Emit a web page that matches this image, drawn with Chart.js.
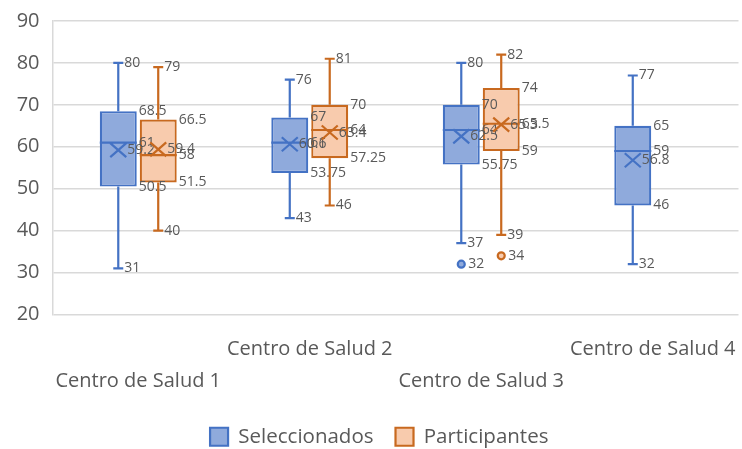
<!DOCTYPE html>
<html lang="es">
<head>
    <meta charset="UTF-8">
    <title>Centros de Salud - Box plot</title>
    <script src="https://cdn.jsdelivr.net/npm/chart.js"></script>
    <style>
        body {
            margin: 0;
            background: #ffffff;
        }
        .chart-wrap {
            position: relative;
            width: 742px;
            height: 449px;
        }
    </style>
</head>
<body>
<div class="chart-wrap">
    <canvas id="boxplot-chart"></canvas>
</div>

<script>
    const categories = [
        ['', 'Centro de Salud 1'],
        'Centro de Salud 2',
        ['', 'Centro de Salud 3'],
        'Centro de Salud 4'
    ];

    // Seleccionados
    const selMin = [31, 43, 37, 32];
    const selQ1 = [50.5, 53.75, 55.75, 46];
    const selMedian = [61, 61, 64, 59];
    const selQ3 = [68.5, 67, 70, 65];
    const selMax = [80, 76, 80, 77];
    const selMean = [59.2, 60.6, 62.5, 56.8];
    const selOutliers = [[], [], [32], []];

    // Participantes
    const partMin = [40, 46, 39, null];
    const partQ1 = [51.5, 57.25, 59, null];
    const partMedian = [58, 64, 65.5, null];
    const partQ3 = [66.5, 70, 74, null];
    const partMax = [79, 81, 82, null];
    const partMean = [59.4, 63.4, 65.3, null];
    const partOutliers = [[], [], [34], []];

    const blueLine = '#4472C4';
    const blueFill = '#8FAADC';
    const orangeLine = '#C8691F';
    const orangeFill = '#F8CBAD';
    const labelColor = '#595959';

    const stats = [
        { min: selMin, q1: selQ1, med: selMedian, q3: selQ3, max: selMax, mean: selMean, out: selOutliers, line: blueLine, fill: blueFill },
        { min: partMin, q1: partQ1, med: partMedian, q3: partQ3, max: partMax, mean: partMean, out: partOutliers, line: orangeLine, fill: orangeFill }
    ];

    function boxRange(q1, q3) {
        return q1.map((v, i) => (v == null ? null : [v, q3[i]]));
    }

    // whiskers, medians, means, outliers and value labels
    const boxExtras = {
        id: 'boxExtras',
        afterLayout(chart) {
            // legend sits a little right of the canvas centre
            chart.legend.left += 10;
            chart.legend.right += 10;
        },
        afterDatasetsDraw(chart) {
            const ctx = chart.ctx;
            const y = chart.scales.y;
            ctx.save();
            stats.forEach((s, di) => {
                const meta = chart.getDatasetMeta(di);
                meta.data.forEach((bar, i) => {
                    if (s.q1[i] == null) return;
                    const cx = bar.x;
                    const half = bar.width / 2;
                    const right = cx + half;
                    const py = v => y.getPixelForValue(v);

                    ctx.strokeStyle = s.line;
                    ctx.lineWidth = 2.2;

                    // whiskers
                    ctx.beginPath();
                    ctx.moveTo(cx, py(s.q3[i]));
                    ctx.lineTo(cx, py(s.max[i]));
                    ctx.moveTo(cx - 5, py(s.max[i]));
                    ctx.lineTo(cx + 5, py(s.max[i]));
                    ctx.moveTo(cx, py(s.q1[i]));
                    ctx.lineTo(cx, py(s.min[i]));
                    ctx.moveTo(cx - 5, py(s.min[i]));
                    ctx.lineTo(cx + 5, py(s.min[i]));
                    // median
                    ctx.moveTo(cx - half, py(s.med[i]));
                    ctx.lineTo(right, py(s.med[i]));
                    // mean marker
                    const my = py(s.mean[i]);
                    ctx.moveTo(cx - 8, my - 7);
                    ctx.lineTo(cx + 8, my + 7);
                    ctx.moveTo(cx - 8, my + 7);
                    ctx.lineTo(cx + 8, my - 7);
                    ctx.stroke();

                    // outliers
                    s.out[i].forEach(v => {
                        ctx.beginPath();
                        ctx.arc(cx, py(v), 3.5, 0, Math.PI * 2);
                        ctx.fillStyle = s.fill;
                        ctx.fill();
                        ctx.stroke();
                    });

                    // value labels
                    ctx.fillStyle = labelColor;
                    ctx.font = '14px "Open Sans"';
                    ctx.textAlign = 'left';
                    ctx.textBaseline = 'middle';
                    ctx.fillText(String(s.max[i]), cx + 6, py(s.max[i]));
                    ctx.fillText(String(s.min[i]), cx + 6, py(s.min[i]));
                    ctx.fillText(String(s.q3[i]), right + 2, py(s.q3[i]));
                    ctx.fillText(String(s.q1[i]), right + 2, py(s.q1[i]));
                    ctx.fillText(String(s.med[i]), right + 2, py(s.med[i]));
                    ctx.fillText(String(s.mean[i]), cx + 9, my);
                    s.out[i].forEach(v => ctx.fillText(String(v), cx + 7, py(v)));
                });
            });
            ctx.restore();
        }
    };

    Chart.defaults.font.family = '"Open Sans", sans-serif';
    Chart.defaults.color = labelColor;

    new Chart(document.getElementById('boxplot-chart'), {
        type: 'bar',
        data: {
            labels: categories,
            datasets: [
                {
                    label: 'Seleccionados',
                    data: boxRange(selQ1, selQ3),
                    backgroundColor: blueFill,
                    borderColor: blueLine,
                    borderWidth: 2.2,
                    borderSkipped: false
                },
                {
                    label: 'Participantes',
                    data: boxRange(partQ1, partQ3),
                    backgroundColor: orangeFill,
                    borderColor: orangeLine,
                    borderWidth: 2.2,
                    borderSkipped: false
                }
            ]
        },
        options: {
            responsive: true,
            maintainAspectRatio: false,
            animation: false,
            categoryPercentage: 0.466,
            barPercentage: 0.925,
            layout: { padding: { top: 21, right: 3.5, left: 0, bottom: -8 } },
            plugins: {
                tooltip: { enabled: false },
                legend: {
                    position: 'bottom',
                    labels: {
                        boxWidth: 18,
                        boxHeight: 18,
                        padding: 22,
                        font: { size: 20.5 },
                        color: labelColor
                    }
                }
            },
            scales: {
                x: {
                    afterFit(scale) {
                        scale.paddingLeft = 0;
                        scale.paddingRight = 0;
                        scale.height = 90;
                    },
                    grid: { display: false, drawTicks: false },
                    border: { display: false },
                    ticks: {
                        autoSkip: false,
                        maxRotation: 0,
                        padding: 19,
                        font: { size: 20, lineHeight: 1.6 },
                        color: labelColor
                    }
                },
                y: {
                    min: 20,
                    max: 90,
                    afterFit(scale) {
                        scale.width = 52.5;
                        scale.paddingTop = 0;
                        scale.paddingBottom = 0;
                    },
                    grid: { color: '#d9d9d9', lineWidth: 1.5, drawTicks: false },
                    border: { color: '#d9d9d9', width: 1.5 },
                    ticks: {
                        stepSize: 10,
                        padding: 13,
                        font: { size: 20 },
                        color: labelColor
                    }
                }
            }
        },
        plugins: [boxExtras]
    });
</script>
</body>
</html>
